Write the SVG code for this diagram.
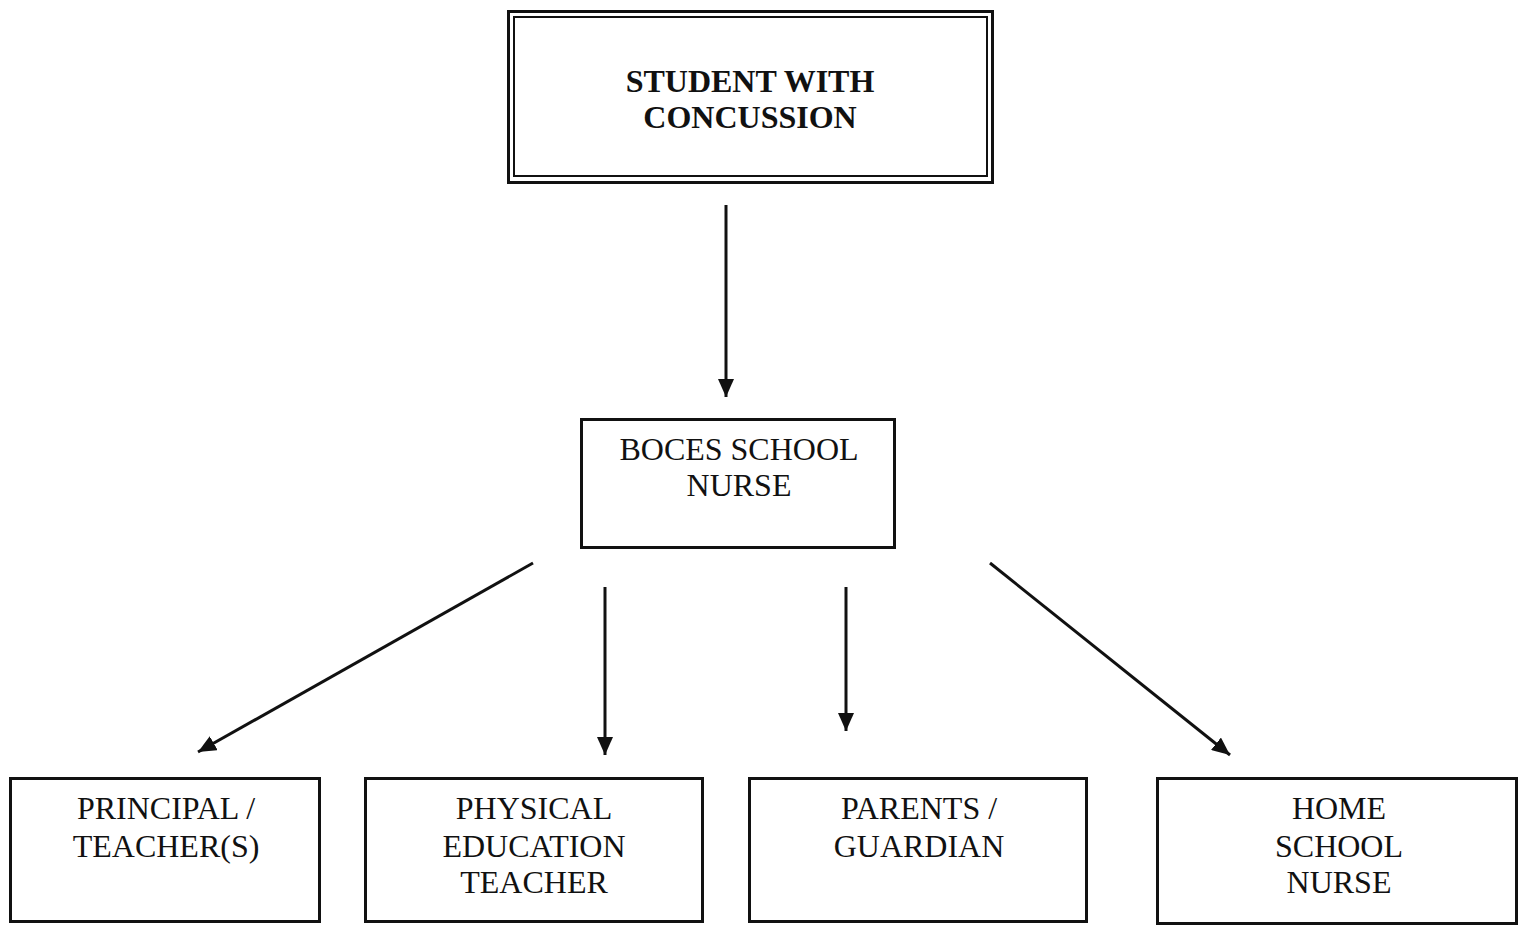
<svg xmlns="http://www.w3.org/2000/svg" width="1522" height="926" viewBox="0 0 1522 926">
<style>
.box{fill:#fff;stroke:#111;stroke-width:3}
.t{font-family:"Liberation Serif","Times New Roman",serif;font-size:32px;fill:#111;text-anchor:middle}
.b{font-weight:bold}
.c{stroke:#111;stroke-width:3;fill:none;marker-end:url(#ah)}
</style>
<defs>
<marker id="ah" markerUnits="userSpaceOnUse" markerWidth="20" markerHeight="16" refX="18" refY="8" orient="auto">
<path d="M0,0 L18,8 L0,16 Z" fill="#111"/>
</marker>
</defs>
<rect width="1522" height="926" fill="#fff"/>
<g id="student">
<rect class="box" x="508.5" y="11.5" width="484" height="171"/>
<rect x="514" y="17" width="473" height="159" fill="none" stroke="#111" stroke-width="2"/>
<text class="t b" x="750" y="92">STUDENT WITH</text>
<text class="t b" x="750" y="128">CONCUSSION</text>
</g>
<g id="boces">
<rect class="box" x="581.5" y="419.5" width="313" height="128"/>
<text class="t" x="739" y="460">BOCES SCHOOL</text>
<text class="t" x="739" y="496">NURSE</text>
</g>
<g id="principal">
<rect class="box" x="10.5" y="778.5" width="309" height="143"/>
<text class="t" x="166" y="819">PRINCIPAL /</text>
<text class="t" x="166" y="857">TEACHER(S)</text>
</g>
<g id="pe">
<rect class="box" x="365.5" y="778.5" width="337" height="143"/>
<text class="t" x="534" y="819">PHYSICAL</text>
<text class="t" x="534" y="857">EDUCATION</text>
<text class="t" x="534" y="893">TEACHER</text>
</g>
<g id="parents">
<rect class="box" x="749.5" y="778.5" width="337" height="143"/>
<text class="t" x="919" y="819">PARENTS /</text>
<text class="t" x="919" y="857">GUARDIAN</text>
</g>
<g id="homenurse">
<rect class="box" x="1157.5" y="778.5" width="359" height="145"/>
<text class="t" x="1339" y="819">HOME</text>
<text class="t" x="1339" y="857">SCHOOL</text>
<text class="t" x="1339" y="893">NURSE</text>
</g>
<g id="connectors">
<line class="c" x1="726" y1="205" x2="726" y2="397"/>
<line class="c" x1="533" y1="563" x2="198" y2="752"/>
<line class="c" x1="605" y1="587" x2="605" y2="755"/>
<line class="c" x1="846" y1="587" x2="846" y2="731"/>
<line class="c" x1="990" y1="563" x2="1230" y2="755"/>
</g>
</svg>
